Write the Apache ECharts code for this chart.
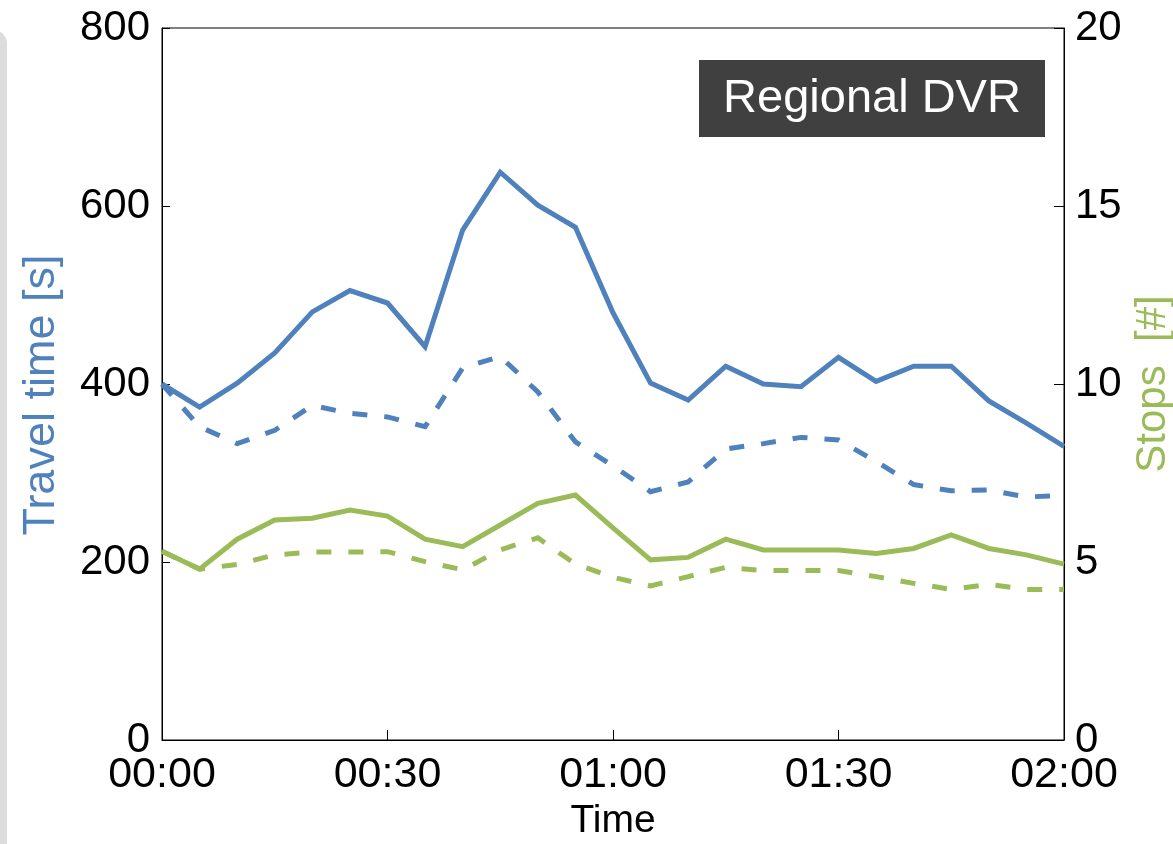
<!DOCTYPE html>
<html>
<head>
<meta charset="utf-8">
<title>Regional DVR</title>
<script src="https://cdn.jsdelivr.net/npm/echarts@6/dist/echarts.min.js"></script>
<style>
  html, body { margin: 0; padding: 0; background: #ffffff; }
  #chart { width: 1173px; height: 844px; }
</style>
</head>
<body>
<div id="chart"></div>
<script>
// Time of day in minutes after midnight (5-minute samples)
var minutes = [0, 5, 10, 15, 20, 25, 30, 35, 40, 45, 50, 55, 60,
               65, 70, 75, 80, 85, 90, 95, 100, 105, 110, 115, 120];

// Travel time [s] – left axis
var travelTimeSolid  = [400, 374, 401, 435, 481, 505, 491, 442, 573, 638, 601, 576, 480,
                        401, 382, 420, 400, 397, 430, 403, 420, 420, 381, 356, 330];
var travelTimeDashed = [400, 352, 333, 348, 376, 367, 363, 352, 418, 431, 391, 335, 308,
                        279, 290, 327, 333, 340, 337, 313, 287, 280, 281, 273, 275];

// Number of stops [#] – right axis
var stopsSolid  = [5.3, 4.8, 5.64, 6.18, 6.23, 6.46, 6.29, 5.64, 5.43, 6.04, 6.65, 6.88, 5.96,
                   5.06, 5.13, 5.64, 5.34, 5.34, 5.34, 5.24, 5.38, 5.76, 5.38, 5.2, 4.94];
var stopsDashed = [5.3, 4.8, 4.93, 5.2, 5.28, 5.28, 5.29, 5.01, 4.78, 5.34, 5.68, 4.94, 4.57,
                   4.33, 4.59, 4.85, 4.76, 4.76, 4.76, 4.59, 4.4, 4.23, 4.37, 4.23, 4.23];

var blue = '#4f81bd';
var green = '#9bbb59';
var font = 'Liberation Sans, Arial, sans-serif';

function pairs(values) {
  return minutes.map(function (m, i) { return [m, values[i]]; });
}
function hhmm(v) {
  var h = Math.floor(v / 60), m = v % 60;
  return (h < 10 ? '0' : '') + h + ':' + (m < 10 ? '0' : '') + m;
}

var chart = echarts.init(document.getElementById('chart'), null, { renderer: 'canvas' });

function lineSeries(values, color, dashed, yIndex) {
  return {
    type: 'line',
    yAxisIndex: yIndex,
    data: pairs(values),
    showSymbol: false,
    symbol: 'none',
    animation: false,
    lineStyle: { color: color, width: 5, type: dashed ? [15, 17] : 'solid', cap: 'butt', join: 'miter' },
    z: dashed ? 2 : 3
  };
}

chart.setOption({
  animation: false,
  backgroundColor: '#ffffff',
  grid: {
    left: 162, right: 109, top: 28, bottom: 104,
    outerBoundsMode: 'none', containLabel: false,
    show: true, borderColor: '#000', borderWidth: 1
  },
  xAxis: {
    type: 'value',
    min: 0, max: 120, interval: 30,
    name: 'Time',
    nameLocation: 'middle',
    nameGap: 58,
    nameTextStyle: { fontFamily: font, fontSize: 39, color: '#000' },
    axisLine: { show: true, lineStyle: { color: '#000', width: 1 } },
    axisTick: { show: true, inside: true, length: 10, lineStyle: { color: '#000' } },
    axisLabel: { formatter: hhmm, fontFamily: font, fontSize: 43, color: '#000', margin: 14 },
    splitLine: { show: false }
  },
  yAxis: [
    {
      type: 'value',
      min: 0, max: 800, interval: 200,
      position: 'left',
      name: 'Travel time [s]',
      nameLocation: 'middle',
      nameGap: 98,
      nameTextStyle: { fontFamily: font, fontSize: 45, color: blue, padding: [0, 22, 0, 0] },
      axisLine: { show: true, lineStyle: { color: '#000', width: 1 } },
      axisTick: { show: true, inside: true, length: 8, lineStyle: { color: '#000' } },
      axisLabel: { fontFamily: font, fontSize: 42, color: '#000', margin: 12 },
      splitLine: { show: false }
    },
    {
      type: 'value',
      min: 0, max: 20, interval: 5,
      position: 'right',
      name: 'Stops  [#]',
      nameLocation: 'middle',
      nameGap: 62,
      nameTextStyle: { fontFamily: font, fontSize: 42, color: green },
      axisLine: { show: true, lineStyle: { color: '#000', width: 1 } },
      axisTick: { show: true, inside: true, length: 10, lineStyle: { color: '#000' } },
      axisLabel: { fontFamily: font, fontSize: 42, color: '#000', margin: 11 },
      splitLine: { show: false }
    }
  ],
  graphic: [
    {
      type: 'rect',
      left: -20, top: 30,
      shape: { width: 27, height: 900, r: 16 },
      style: { fill: '#dcdcdc' },
      z: 0
    },
    {
      type: 'group',
      left: 699, top: 60,
      z: 10,
      children: [
        { type: 'rect', shape: { x: 0, y: 0, width: 346, height: 77 }, style: { fill: '#404040' } },
        {
          type: 'text', x: 173, y: 39,
          style: { text: 'Regional DVR', fill: '#ffffff', font: '47px ' + font, textAlign: 'center', textVerticalAlign: 'middle' }
        }
      ]
    }
  ],
  series: [
    lineSeries(travelTimeSolid, blue, false, 0),
    lineSeries(travelTimeDashed, blue, true, 0),
    lineSeries(stopsSolid, green, false, 1),
    lineSeries(stopsDashed, green, true, 1)
  ]
});
</script>
</body>
</html>
